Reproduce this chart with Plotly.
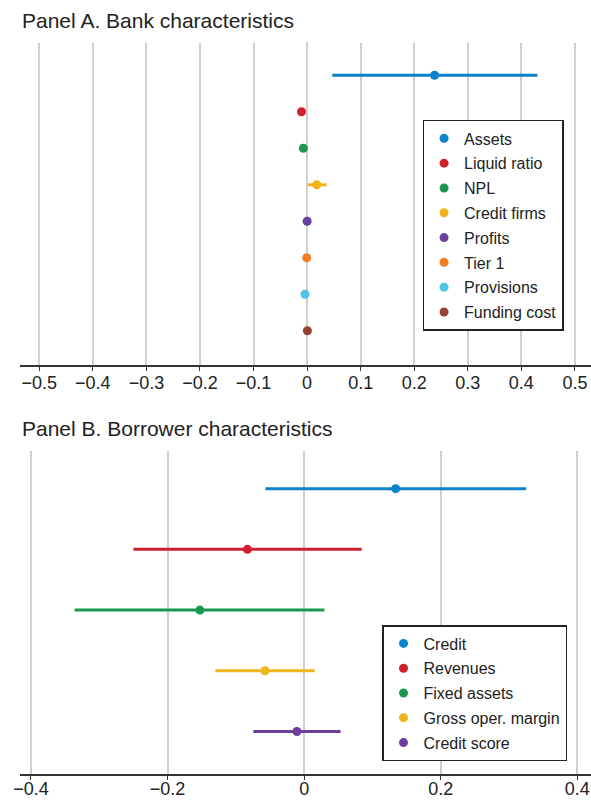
import plotly.graph_objects as go

# Panel A: bank characteristics (estimate with 95% interval)
bank_vars = ["Assets", "Liquid ratio", "NPL", "Credit firms", "Profits",
             "Tier 1", "Provisions", "Funding cost"]
bank_est = [0.238, -0.0105, -0.007, 0.018, 0.0, -0.0007, -0.004, 0.0005]
bank_lo = [0.047, -0.014, -0.010, 0.0015, -0.003, -0.004, -0.007, -0.002]
bank_hi = [0.430, -0.007, -0.004, 0.0366, 0.003, 0.002, -0.001, 0.003]
bank_colors = ["#0a82cc", "#d0202e", "#1a9850", "#f0b41e", "#6b3fa0",
               "#f47b20", "#4dc4e4", "#964334"]
bank_ticks = [-0.5, -0.4, -0.3, -0.2, -0.1, 0, 0.1, 0.2, 0.3, 0.4, 0.5]
bank_ticktext = ["\u22120.5", "\u22120.4", "\u22120.3", "\u22120.2", "\u22120.1",
                 "0", "0.1", "0.2", "0.3", "0.4", "0.5"]

# Panel B: borrower characteristics
borr_vars = ["Credit", "Revenues", "Fixed assets", "Gross oper. margin", "Credit score"]
borr_est = [0.134, -0.083, -0.1526, -0.0573, -0.0105]
borr_lo = [-0.0567, -0.250, -0.336, -0.130, -0.0744]
borr_hi = [0.325, 0.0843, 0.0297, 0.0154, 0.0534]
borr_colors = ["#0a82cc", "#d0202e", "#1a9850", "#f0b41e", "#6b3fa0"]
borr_ticks = [-0.4, -0.2, 0, 0.2, 0.4]
borr_ticktext = ["\u22120.4", "\u22120.2", "0", "0.2", "0.4"]

FONT = "Liberation Sans, Arial, sans-serif"
TEXT = "#222222"

fig = go.Figure()


def add_panel(names, est, lo, hi, colors, xaxis, yaxis, legend):
    for name, e, l, h, c in zip(names, est, lo, hi, colors):
        fig.add_trace(go.Scatter(
            x=[e], y=[name], mode="markers", name=name,
            xaxis=xaxis, yaxis=yaxis, legend=legend, legendgroup=name,
            marker=dict(color=c, size=9),
            error_x=dict(type="data", symmetric=False, array=[h - e],
                         arrayminus=[e - l], color=c, thickness=3, width=0),
        ))


add_panel(bank_vars, bank_est, bank_lo, bank_hi, bank_colors, "x", "y", "legend")
add_panel(borr_vars, borr_est, borr_lo, borr_hi, borr_colors, "x2", "y2", "legend2")

xcommon = dict(showgrid=True, gridcolor="#cfcfcf", gridwidth=1.5, zeroline=False,
               showline=True, linecolor="#333333", linewidth=1.5,
               ticks="outside", ticklen=4, tickcolor="#333333", tickwidth=1.2,
               tickfont=dict(family=FONT, size=18, color=TEXT), automargin=False)
ycommon = dict(showgrid=False, zeroline=False, showline=False,
               showticklabels=False, ticks="", type="category", automargin=False)

legend_common = dict(font=dict(family=FONT, size=16, color=TEXT),
                     bordercolor="#222222", borderwidth=1.5, bgcolor="white",
                     xanchor="left", yanchor="top", traceorder="grouped",
                     tracegroupgap=1.0, itemclick=False)

fig.update_layout(
    width=591, height=800,
    margin=dict(l=20, r=0, t=0, b=26),
    paper_bgcolor="white", plot_bgcolor="white",
    showlegend=True,
    xaxis=dict(**xcommon, range=[-0.536, 0.530], tickvals=bank_ticks,
               ticktext=bank_ticktext, anchor="y", ticklabelstandoff=-3),
    yaxis=dict(**ycommon, domain=[0.5284, 0.9448], range=[7.94, -0.893],
               anchor="x"),
    xaxis2=dict(**xcommon, range=[-0.416, 0.42], tickvals=borr_ticks,
                ticktext=borr_ticktext, anchor="y2", ticklabelstandoff=-6),
    yaxis2=dict(**ycommon, domain=[0.0, 0.4173], range=[4.70, -0.62],
                anchor="x2"),
    legend=dict(**legend_common, x=0.705, y=0.845),
    legend2=dict(**legend_common, x=0.634, y=0.1925),
    shapes=[
        dict(type="line", xref="x", yref="y domain", x0=0, x1=0, y0=0, y1=1,
             line=dict(color="#111111", width=1.5, dash="7px,4px"), layer="below"),
        dict(type="line", xref="x2", yref="y2 domain", x0=0, x1=0, y0=0, y1=1,
             line=dict(color="#111111", width=1.5, dash="7px,4px"), layer="below"),
    ],
    annotations=[
        dict(text="Panel A. Bank characteristics", xref="paper", yref="paper",
             x=0, y=0.974, xanchor="left", yanchor="middle", showarrow=False,
             font=dict(family=FONT, size=21, color=TEXT)),
        dict(text="Panel B. Borrower characteristics", xref="paper", yref="paper",
             x=0, y=0.4466, xanchor="left", yanchor="middle", showarrow=False,
             font=dict(family=FONT, size=21, color=TEXT)),
    ],
)

fig.write_html("out.html")
